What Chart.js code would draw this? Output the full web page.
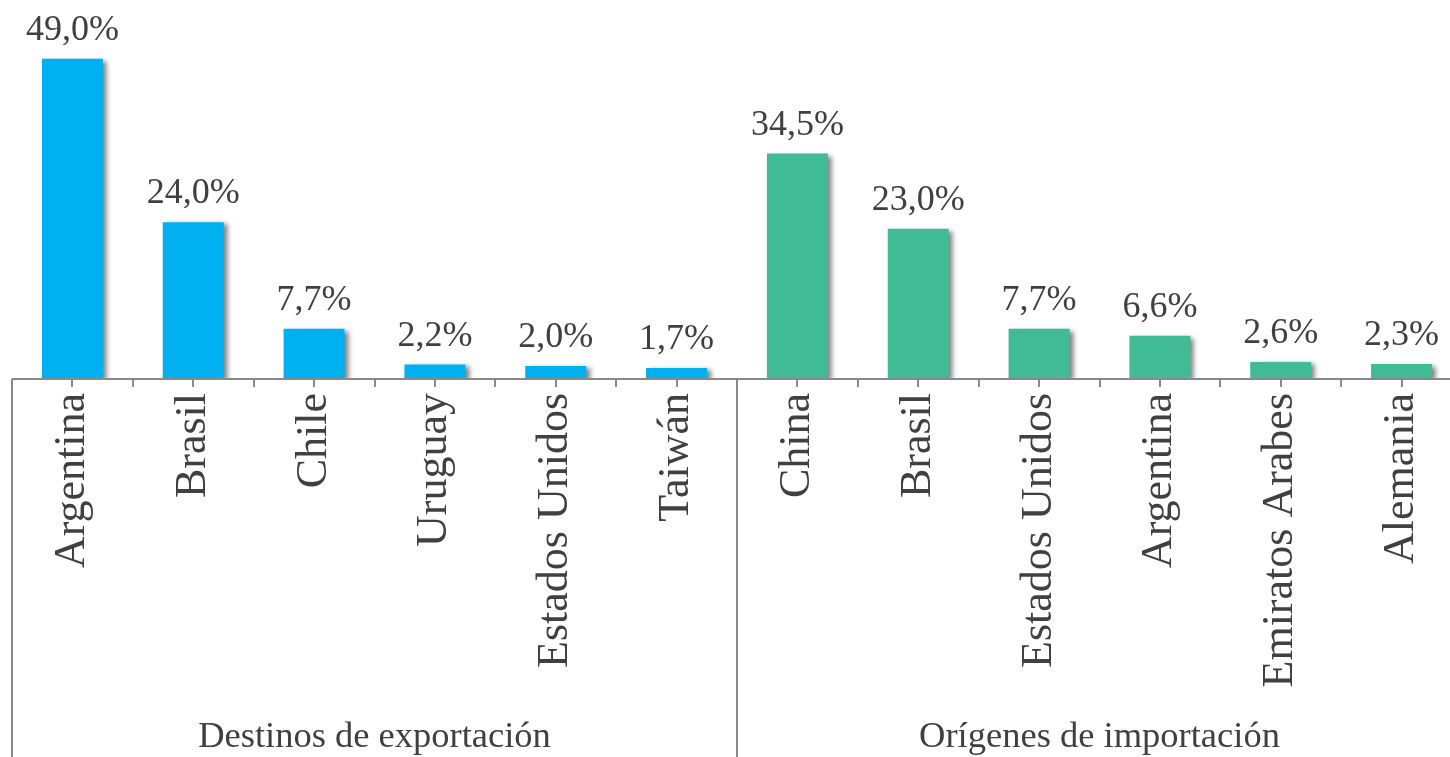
<!DOCTYPE html>
<html>
<head>
<meta charset="utf-8">
<script src="https://cdn.jsdelivr.net/npm/chart.js@4/dist/chart.umd.min.js"></script>
<style>
html,body{margin:0;padding:0;background:#fff;overflow:hidden;}
#wrap{width:1462px;height:757px;position:relative;}
</style>
</head>
<body>
<div id="wrap"><canvas id="c"></canvas></div>
<script>
// ---- data ----
const groups = ["Destinos de exportación", "Orígenes de importación"];
const exportCategories = ["Argentina", "Brasil", "Chile", "Uruguay", "Estados Unidos", "Taiwán"];
const exportValues = [49.0, 24.0, 7.7, 2.2, 2.0, 1.7];
const importCategories = ["China", "Brasil", "Estados Unidos", "Argentina", "Emiratos Arabes", "Alemania"];
const importValues = [34.5, 23.0, 7.7, 6.6, 2.6, 2.3];

const exportColor = "#00B0F0";
const importColor = "#41BA96";
const textColor = "#404040";
const lineColor = "#898989";
const FONT = "'Liberation Serif', 'Times New Roman', serif";

const labels = exportCategories.concat(importCategories);
const values = exportValues.concat(importValues);
const colors = exportValues.map(() => exportColor).concat(importValues.map(() => importColor));

const fmt = v => v.toFixed(1).replace('.', ',') + '%';

const shadowPlugin = {
  id: 'shadow',
  beforeDatasetsDraw(chart) {
    const ctx = chart.ctx;
    ctx.save();
    ctx.shadowColor = 'rgba(0,0,0,0.5)';
    ctx.shadowOffsetX = 4;
    ctx.shadowOffsetY = 2;
    ctx.shadowBlur = 5;
  },
  afterDatasetsDraw(chart) {
    chart.ctx.restore();
    // data labels
    const ctx = chart.ctx;
    const meta = chart.getDatasetMeta(0);
    ctx.save();
    ctx.font = "36px " + FONT;
    ctx.fillStyle = textColor;
    ctx.textAlign = 'center';
    ctx.textBaseline = 'alphabetic';
    meta.data.forEach((bar, i) => {
      ctx.fillText(fmt(values[i]), bar.x, bar.y - 19);
    });
    ctx.restore();
  }
};

const axisDecor = {
  id: 'axisDecor',
  afterDraw(chart) {
    const ctx = chart.ctx;
    const xs = chart.scales.x;
    const y0 = chart.chartArea.bottom;
    const H = chart.height;
    ctx.save();
    ctx.strokeStyle = lineColor;
    ctx.lineWidth = 2;
    // axis line
    ctx.beginPath();
    ctx.moveTo(xs.getPixelForValue(-0.5), y0);
    ctx.lineTo(xs.getPixelForValue(labels.length - 0.5), y0);
    ctx.stroke();
    // small ticks at centres and boundaries
    for (let k = 0; k <= labels.length * 2; k++) {
      const v = -0.5 + k / 2;
      const x = Math.round(xs.getPixelForValue(v));
      const isSep = (k % 2 === 0) && ((v + 0.5) % exportCategories.length === 0);
      ctx.beginPath();
      ctx.moveTo(x, y0);
      ctx.lineTo(x, isSep ? H : y0 + 8);
      ctx.stroke();
    }
    // group labels
    ctx.font = "36.5px " + FONT;
    ctx.fillStyle = textColor;
    ctx.textAlign = 'center';
    ctx.textBaseline = 'alphabetic';
    const n = exportCategories.length;
    ctx.fillText(groups[0], xs.getPixelForValue((n - 1) / 2), 747);
    ctx.fillText(groups[1], xs.getPixelForValue(n + (importCategories.length - 1) / 2), 747);
    ctx.restore();
  }
};

new Chart(document.getElementById('c'), {
  type: 'bar',
  data: {
    labels: labels,
    datasets: [{
      data: values,
      backgroundColor: colors,
      borderWidth: 0,
      categoryPercentage: 1.0,
      barPercentage: 0.505
    }]
  },
  options: {
    responsive: true,
    maintainAspectRatio: false,
    animation: false,
    layout: { padding: { left: 12, right: 0, top: 0, bottom: 0 } },
    plugins: { legend: { display: false }, tooltip: { enabled: false } },
    scales: {
      y: { display: false, min: 0, max: 58 },
      x: {
        border: { display: false },
        grid: { display: false, drawTicks: false },
        ticks: {
          color: textColor,
          font: { family: FONT, size: 44 },
          minRotation: 90,
          maxRotation: 90,
          autoSkip: false,
          padding: 14
        },
        afterFit(scale) {
          scale.height = 757 - 379;
          scale.paddingLeft = 0;
          scale.paddingRight = 0;
        }
      }
    }
  },
  plugins: [shadowPlugin, axisDecor]
});
</script>
</body>
</html>
